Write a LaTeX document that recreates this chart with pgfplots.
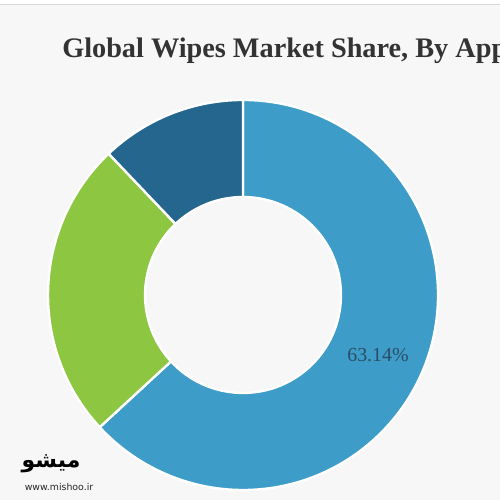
\documentclass[border=0pt]{standalone}
\usepackage{pgfplots}
\pgfplotsset{compat=1.18}
\usepackage{pgfplotstable}
\usepackage{fontspec}
\setmainfont{Liberation Serif}
\newfontfamily\arabicfont[Script=Arabic]{DejaVu Sans}
\newfontfamily\urlfont{DejaVu Sans}
\TeXXeTstate=1
\definecolor{segblue}{HTML}{3E9CC9}
\definecolor{seggreen}{HTML}{8DC641}
\definecolor{segdark}{HTML}{24668E}
\definecolor{bgc}{HTML}{F7F7F7}
\definecolor{titlec}{HTML}{333333}
\definecolor{labc}{HTML}{2A4E66}

\pgfplotstableread{
value color
63.14 segblue
24.76 seggreen
12.10 segdark
}\sharetable

\begin{document}
\begin{tikzpicture}
\begin{axis}[
  x=0.024cm, y=0.024cm,
  xmin=0, xmax=500, ymin=0, ymax=500,
  hide axis, clip=false,
]
% background
\fill[bgc] (axis cs:0,0) rectangle (axis cs:500,500);
\fill[white] (axis cs:0,496) rectangle (axis cs:500,500);
\draw[gray!30, line width=1pt] (axis cs:0,495.5) -- (axis cs:500,495.5);
% donut segments from the table
\def\start{90}
\pgfplotsforeachungrouped \i in {0,1,2}{%
  \pgfplotstablegetelem{\i}{value}\of\sharetable
  \pgfmathsetmacro\sweep{3.6*\pgfplotsretval}%
  \pgfmathsetmacro\stop{\start-\sweep}%
  \pgfplotstablegetelem{\i}{color}\of\sharetable
  \edef\segcolor{\pgfplotsretval}%
  \edef\temp{\noexpand\fill[\segcolor, draw=white, line width=1.6pt, line join=round]
    (axis cs:243,205) ++(\start:4.68cm)
    arc[start angle=\start, end angle=\stop, radius=4.68cm]
    -- ++(\stop+180:2.328cm)
    arc[start angle=\stop, end angle=\start, radius=2.352cm] -- cycle;}%
  \temp
  \let\start\stop
}
% labels
\node[anchor=base west, text=titlec, font=\fontsize{19.3}{22}\selectfont\bfseries, inner sep=0pt]
  at (axis cs:62,442) {Global Wipes Market Share, By Application};
\node[text=labc, font=\fontsize{13.6}{16}\selectfont, inner sep=0pt]
  at (axis cs:378,145) {63.14\%};
\node[font=\fontsize{15}{18}\selectfont\arabicfont\bfseries, inner sep=0pt]
  at (axis cs:51,36) {\beginR میشو\endR};
\node[font=\fontsize{6.4}{8}\selectfont\urlfont, text=black!85, inner sep=0pt]
  at (axis cs:59,13) {www.mishoo.ir};
\end{axis}
\pgfresetboundingbox
\path (0,0) rectangle (12cm,12cm);
\end{tikzpicture}
\end{document}
